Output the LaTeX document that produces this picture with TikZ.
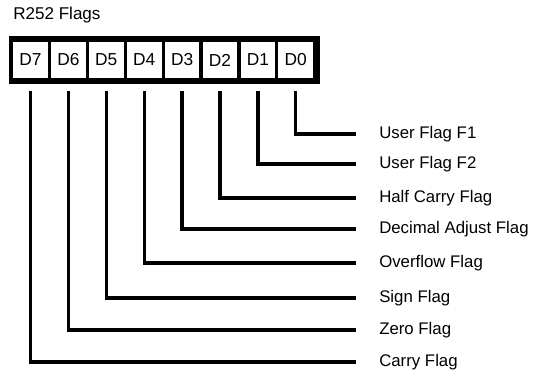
\documentclass[tikz,border=0pt]{standalone}
\usepackage{fontspec}
\setmainfont{Liberation Sans}
\usepackage{tikz}
\usetikzlibrary{positioning, calc}

\tikzset{
  cellbox/.style={fill=white, minimum width=26pt, minimum height=26.5pt, inner sep=0pt, font=\fontsize{13}{15}\selectfont},
  flaglabel/.style={anchor=west, inner sep=0pt, font=\fontsize{12.6}{15}\selectfont},
  flagline/.style={line width=2.5pt, shorten <=9.75pt, shorten >=17.25pt}
}

\begin{document}
\begin{tikzpicture}[x=0.75pt, y=-0.75pt]
  \useasboundingbox (0,0) rectangle (534,377);

  % title
  \node[anchor=base west, inner sep=0pt, font=\fontsize{12.8}{15}\selectfont] (title) at (13,20) {R252 Flags};

  % register
  \fill[black] (9,36) rectangle (320,84);
  \node[cellbox] (d7) at (30.5,60) {D7};
  \node[cellbox] (d6) at (68.4,60) {D6};
  \node[cellbox] (d5) at (106.3,60) {D5};
  \node[cellbox] (d4) at (144.2,60) {D4};
  \node[cellbox] (d3) at (182.1,60) {D3};
  \node[cellbox] (d2) at (220,60) {D2};
  \node[cellbox] (d1) at (257.9,60) {D1};
  \node[cellbox] (d0) at (295.8,60) {D0};

  % flag names
  \node[flaglabel] (userf1) at (379,134) {User Flag F1};
  \node[flaglabel] (userf2) at (379,164) {User Flag F2};
  \node[flaglabel] (halfcarry) at (379,198) {Half Carry Flag};
  \node[flaglabel] (decadj) at (379,229) {Decimal Adjust Flag};
  \node[flaglabel] (overflow) at (379,263) {Overflow Flag};
  \node[flaglabel] (sign) at (379,298) {Sign Flag};
  \node[flaglabel] (zero) at (379,330) {Zero Flag};
  \node[flaglabel] (carry) at (379,362) {Carry Flag};

  % bit to flag
  \draw[flagline] (d0.south) |- (userf1.west);
  \draw[flagline] (d1.south) |- (userf2.west);
  \draw[flagline] (d2.south) |- (halfcarry.west);
  \draw[flagline] (d3.south) |- (decadj.west);
  \draw[flagline] (d4.south) |- (overflow.west);
  \draw[flagline] (d5.south) |- (sign.west);
  \draw[flagline] (d6.south) |- (zero.west);
  \draw[flagline] (d7.south) |- (carry.west);
\end{tikzpicture}
\end{document}
